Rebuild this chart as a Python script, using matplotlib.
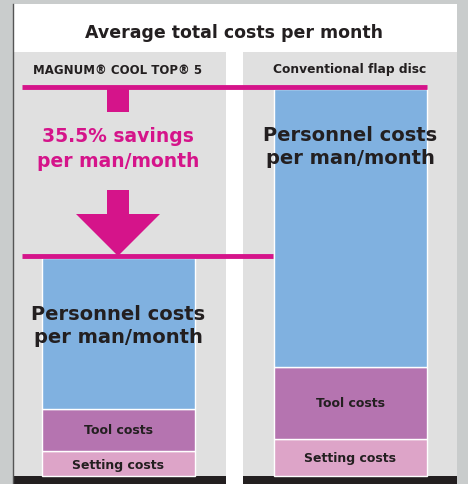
import matplotlib.pyplot as plt
from matplotlib.patches import Rectangle, Polygon

# data (arbitrary units)
products = ["MAGNUM® COOL TOP® 5", "Conventional flap disc"]
setting_costs = [25, 37]
tool_costs = [42, 72]
personnel_costs = [151, 278]
segment_labels = ["Setting costs", "Tool costs", "Personnel costs\nper man/month"]
title = "Average total costs per month"
savings_text = "35.5% savings\nper man/month"

c_blue = "#80b1e0"
c_tool = "#b574b0"
c_set = "#dda4c8"
c_mag = "#d5148a"
c_gray = "#e0e0e0"
c_dark = "#231f20"

fig = plt.figure(figsize=(4.68, 4.85), dpi=100)
fig.patch.set_facecolor("#c9cccc")
ax = fig.add_axes([0, 0, 1, 1])
ax.set_xlim(0, 468)
ax.set_ylim(-8, 477)   # 1 unit = 1 px, value 0 at the bar base
ax.axis("off")

# white frame + gray panels
ax.add_patch(Rectangle((13, -8), 444, 480, facecolor="white", edgecolor="none"))
ax.plot([13, 13], [-8, 472], color="#555555", lw=1)
panels_x = [(13, 213), (243, 214)]
for x0, w in panels_x:
    ax.add_patch(Rectangle((x0, 0), w, 424, facecolor=c_gray, edgecolor="none"))
    ax.add_patch(Rectangle((x0, -8), w, 8, facecolor=c_dark, edgecolor="none"))

ax.text(234, 444, title, ha="center", va="center", fontsize=12.5,
        fontweight="bold", color=c_dark)
label_x = [118, 350]
label_fs = [8.5, 8.8]
for lx, p, fs in zip(label_x, products, label_fs):
    ax.text(lx, 407, p, ha="center", va="center", fontsize=fs,
            fontweight="semibold", color=c_dark)

# stacked bars
bar_x = [118, 350.5]
bar_w = 153
ax.bar(bar_x, setting_costs, width=bar_w, color=c_set, edgecolor="white", lw=1)
ax.bar(bar_x, tool_costs, width=bar_w, bottom=setting_costs, color=c_tool,
       edgecolor="white", lw=1)
bottom2 = [s + t for s, t in zip(setting_costs, tool_costs)]
ax.bar(bar_x, personnel_costs, width=bar_w, bottom=bottom2, color=c_blue,
       edgecolor="white", lw=1)

for i in range(2):
    ax.text(bar_x[i], setting_costs[i] / 2 + (-1 if i == 0 else 0), segment_labels[0],
            ha="center", va="center", fontsize=9, fontweight="bold", color=c_dark)
    ax.text(bar_x[i], setting_costs[i] + tool_costs[i] / 2, segment_labels[1],
            ha="center", va="center", fontsize=9, fontweight="bold", color=c_dark)
pers_y = [bottom2[0] + 84, bottom2[1] + 221]
for i in range(2):
    ax.text(bar_x[i], pers_y[i], segment_labels[2], ha="center", va="center",
            fontsize=14, fontweight="bold", color=c_dark, linespacing=1.3)

# savings marker
top_total = bottom2[1] + personnel_costs[1]
low_total = bottom2[0] + personnel_costs[0]
ax.plot([22, 427], [top_total + 2, top_total + 2], color=c_mag, lw=3.5, solid_capstyle="butt")
ax.plot([22, 273], [low_total + 2, low_total + 2], color=c_mag, lw=3.5, solid_capstyle="butt")
ax.add_patch(Rectangle((107, top_total - 23), 22, 24, facecolor=c_mag, edgecolor="none"))
ax.add_patch(Rectangle((107, 261), 22, 25, facecolor=c_mag, edgecolor="none"))
ax.add_patch(Polygon([(76, 262), (160, 262), (118, low_total + 2)], closed=True,
                     facecolor=c_mag, edgecolor="none"))
ax.text(118, 328, savings_text, ha="center", va="center", fontsize=13.5,
        fontweight="bold", color=c_mag, linespacing=1.45)

fig.savefig("out.png", dpi=100)
